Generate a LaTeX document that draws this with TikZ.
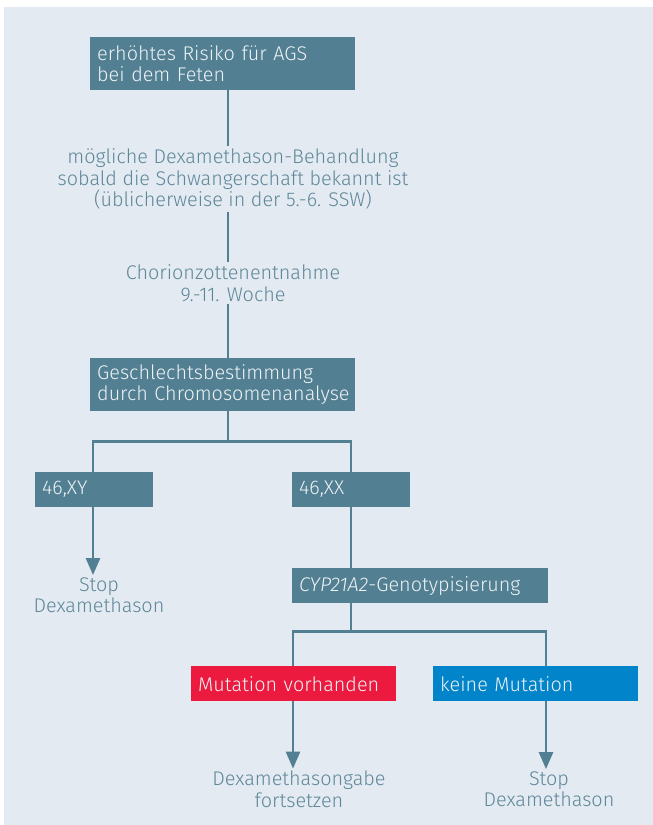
\documentclass[tikz,border=0pt]{standalone}
\usepackage{fontspec}
\setmainfont{Fira Sans Light}[ItalicFont=Fira Sans Light Italic]
\usetikzlibrary{arrows.meta,calc}
\definecolor{bg}{HTML}{E3EAF1}
\definecolor{boxc}{HTML}{527F92}
\definecolor{labc}{HTML}{5E8799}
\definecolor{redc}{HTML}{EC1A3E}
\definecolor{bluec}{HTML}{0284CA}
\definecolor{boxt}{HTML}{EEF3F6}
\tikzset{
  box/.style={fill=boxc, text=boxt, anchor=north west, inner xsep=7pt, inner ysep=0pt,
    align=left, font=\fontsize{19.8}{21.5}\selectfont},
  lab/.style={text=labc, align=center, inner sep=2pt, font=\fontsize{19.8}{21.5}\selectfont},
  conn/.style={draw=boxc, line width=2.6pt},
  arr/.style={conn, -{Triangle[width=14pt,length=17pt]}}
}
\begin{document}
\begin{tikzpicture}[x=1pt,y=-1pt]
\useasboundingbox (0,0) rectangle (653,825);
\fill[bg] (4,7) rectangle (653,825);
% boxes
\node[box, minimum width=265pt, minimum height=53pt, text width=251pt] (b1) at (90,37)
  {\mbox{erhöhtes Risiko für AGS}\\\mbox{bei dem Feten}};
\node[lab] (l1) at (233,179) {mögliche Dexamethason-Behandlung\\sobald die Schwangerschaft bekannt ist\\(üblicherweise in der 5.-6. SSW)};
\node[lab] (l2) at (233,283) {Chorionzottenentnahme\\9.-11. Woche};
\node[box, minimum width=265pt, minimum height=53pt, text width=251pt] (b2) at (90,358)
  {\mbox{Geschlechtsbestimmung}\\\mbox{durch Chromosomenanalyse}};
\node[box, minimum width=118pt, minimum height=35pt, text width=104pt] (xy) at (35,472) {46,XY};
\node[box, minimum width=118pt, minimum height=35pt, text width=104pt] (xx) at (292,472) {46,XX};
\node[lab] (s1) at (99,595) {Stop\\Dexamethason};
\node[box, minimum width=256pt, minimum height=35pt, text width=242pt] (cyp) at (292,568) {\mbox{\textit{CYP21A2}-Genotypisierung}};
\node[box, fill=redc, minimum width=205pt, minimum height=35pt, text width=191pt] (mut) at (191,666) {Mutation vorhanden};
\node[box, fill=bluec, minimum width=205pt, minimum height=35pt, text width=191pt] (kein) at (433,666) {keine Mutation};
\node[lab] (d1) at (299,789) {Dexamethasongabe\\fortsetzen};
\node[lab] (s2) at (549,789) {Stop\\Dexamethason};
% spines
\coordinate (sp) at (228,0);
\coordinate (sl) at (93,0);
\coordinate (sr) at (351,0);
\coordinate (ml) at (293,0);
\coordinate (mr) at (546,0);
% connectors
\draw[conn] (b1.south -| sp) -- (sp |- l1.north);
\draw[conn] (l1.south -| sp) -- (sp |- l2.north);
\draw[conn] (l2.south -| sp) -- (sp |- b2.north);
\draw[conn] (b2.south -| sp) -- ++(0,30) coordinate (j1);
\draw[conn] (sl |- xy.north) -- (sl |- j1) -- (sr |- j1) -- (sr |- xx.north);
\draw[arr] (sl |- xy.south) -- (sl |- s1.north);
\draw[conn] (sr |- xx.south) -- (sr |- cyp.north);
\draw[conn] (cyp.south -| sr) -- ++(0,28) coordinate (j2);
\draw[conn] (ml |- mut.north) -- (ml |- j2) -- (mr |- j2) -- (mr |- kein.north);
\draw[arr] (ml |- mut.south) -- (ml |- d1.north);
\draw[arr] (mr |- kein.south) -- (mr |- s2.north);
\end{tikzpicture}
\end{document}
